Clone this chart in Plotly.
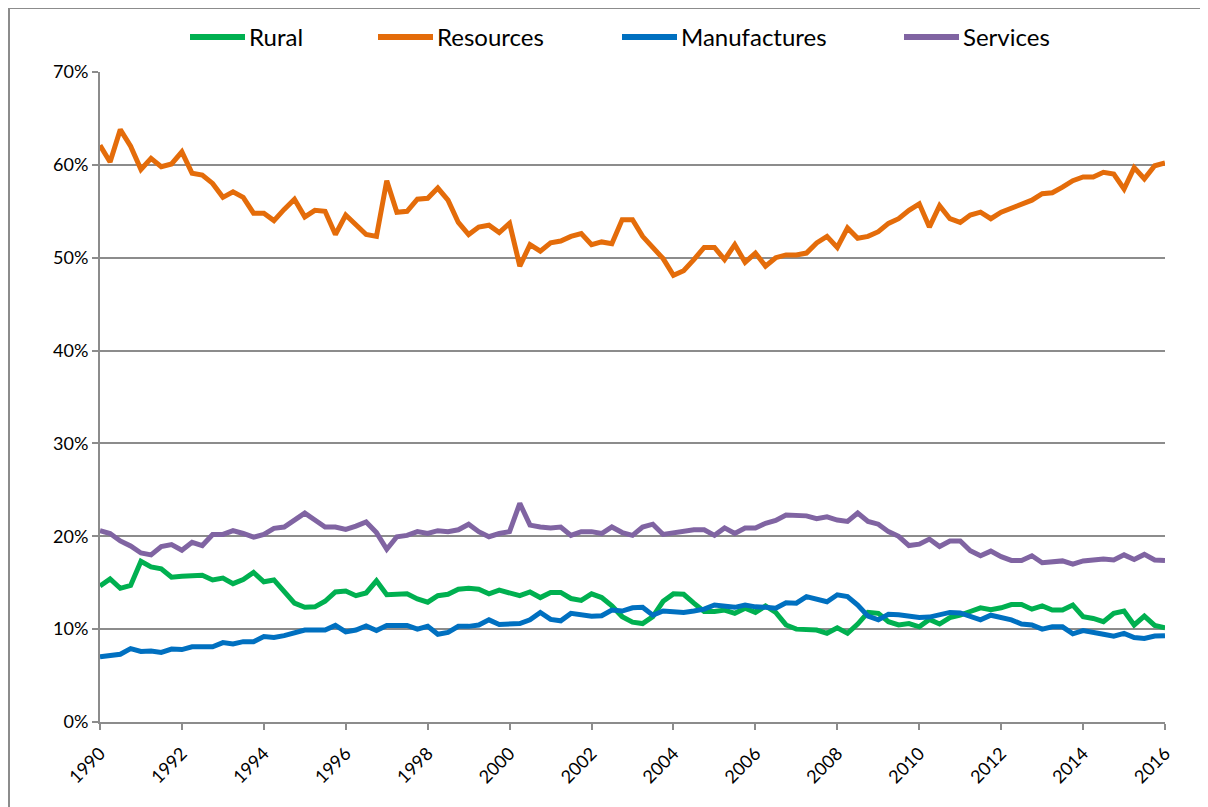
import plotly.graph_objects as go
import pandas as pd

# quarterly shares, 1990Q1 - 2016Q1 (in %)
quarters = pd.date_range("1990-01-01", periods=105, freq="QS")

rural = [14.65, 15.4, 14.4, 14.7, 17.3, 16.7, 16.5, 15.6, 15.7, 15.8,
         15.8, 15.3, 15.5, 14.9, 15.35, 16.1, 15.1, 15.3, 14.0, 12.8,
         12.35, 12.4, 13.0, 14.0, 14.1, 13.6, 13.9, 15.2, 13.7, 13.7,
         13.8, 13.25, 12.9, 13.6, 13.75, 14.3, 14.4, 14.3, 13.8, 14.2,
         13.95, 13.6, 14.0, 13.4, 13.95, 13.95, 13.3, 13.1, 13.8, 13.4,
         12.5, 11.35, 10.75, 10.6, 11.35, 13.0, 13.8, 13.75, 12.8, 11.9,
         11.9, 12.05, 11.7, 12.25, 11.8, 12.5, 11.8, 10.45, 10.0, 9.9,
         9.9, 9.55, 10.15, 9.55, 10.55, 11.8, 11.7, 10.8, 10.45, 10.6,
         10.25, 11.05, 10.55, 11.25, 11.5, 11.9, 12.3, 12.1, 12.3, 12.65,
         12.65, 12.15, 12.5, 12.05, 12.05, 12.6, 11.35, 11.15, 10.8, 11.7,
         11.95, 10.45, 11.4, 10.4, 10.15]

resources = [62.1, 60.3, 63.8, 62.0, 59.5, 60.7, 59.8, 60.1, 61.4, 59.1,
             58.9, 58.0, 56.5, 57.1, 56.5, 54.8, 54.8, 54.0, 55.2, 56.3,
             54.4, 55.1, 55.0, 52.5, 54.6, 53.6, 52.5, 52.3, 58.3, 54.9,
             55.0, 56.3, 56.4, 57.5, 56.2, 53.8, 52.5, 53.3, 53.5, 52.7,
             53.7, 49.1, 51.4, 50.7, 51.6, 51.8, 52.3, 52.6, 51.4, 51.7,
             51.5, 54.1, 54.1, 52.3, 51.1, 49.9, 48.1, 48.6, 49.8, 51.1,
             51.1, 49.8, 51.4, 49.5, 50.5, 49.1, 50.0, 50.3, 50.3, 50.5,
             51.6, 52.3, 51.1, 53.2, 52.1, 52.3, 52.8, 53.7, 54.2, 55.1,
             55.8, 53.3, 55.6, 54.2, 53.8, 54.6, 54.9, 54.2, 54.9, 55.3,
             55.8, 56.2, 56.9, 57.0, 57.6, 58.3, 58.7, 58.7, 59.2, 59.0,
             57.4, 59.7, 58.5, 59.9, 60.2]

manufactures = [7.03, 7.1, 7.3, 7.9, 7.6, 7.65, 7.5, 7.85, 7.8, 8.1,
                8.1, 8.1, 8.55, 8.4, 8.65, 8.65, 9.2, 9.1, 9.3, 9.6,
                9.9, 9.9, 9.9, 10.4, 9.7, 9.9, 10.35, 9.85, 10.4, 10.4,
                10.4, 10.0, 10.3, 9.45, 9.65, 10.3, 10.3, 10.45, 11.0, 10.5,
                10.5, 10.6, 11.0, 11.8, 11.05, 10.9, 11.7, 11.6, 11.4, 11.45,
                12.05, 11.95, 12.3, 12.35, 11.5, 11.95, 11.9, 11.8, 11.95, 12.15,
                12.6, 12.5, 12.35, 12.6, 12.4, 12.35, 12.25, 12.85, 12.8, 13.5,
                13.2, 12.95, 13.7, 13.5, 12.6, 11.4, 11.0, 11.6, 11.55, 11.45,
                11.25, 11.3, 11.5, 11.8, 11.75, 11.4, 11.0, 11.5, 11.25, 11.0,
                10.55, 10.45, 10.0, 10.25, 10.25, 9.5, 9.85, 9.6, 9.45, 9.25,
                9.55, 9.1, 9.0, 9.25, 9.3]

services = [20.6, 20.3, 19.5, 18.95, 18.2, 18.0, 18.9, 19.1, 18.5, 19.35,
            19.0, 20.2, 20.2, 20.6, 20.3, 19.9, 20.2, 20.85, 21.0, 21.75,
            22.5, 21.75, 21.0, 21.0, 20.75, 21.1, 21.55, 20.4, 18.6, 19.95,
            20.1, 20.5, 20.3, 20.6, 20.5, 20.7, 21.3, 20.5, 19.95, 20.3,
            20.5, 23.55, 21.2, 21.0, 20.9, 21.0, 20.1, 20.5, 20.5, 20.3,
            21.0, 20.4, 20.1, 21.0, 21.3, 20.2, 20.4, 20.6, 20.7, 20.7,
            20.1, 20.9, 20.3, 20.9, 20.9, 21.4, 21.7, 22.3, 22.3, 22.2,
            21.9, 22.1, 21.75, 21.6, 22.5, 21.6, 21.3, 20.5, 20.0, 19.0,
            19.15, 19.7, 18.9, 19.5, 19.5, 18.45, 17.9, 18.4, 17.8, 17.4,
            17.4, 17.9, 17.15, 17.3, 17.35, 17.0, 17.35, 17.45, 17.55, 17.45,
            18.0, 17.5, 18.05, 17.45, 17.4]

names = ["Rural", "Resources", "Manufactures", "Services"]
colors = ["#00B050", "#E46C0A", "#0070C0", "#8064A2"]
tick_years = list(range(1990, 2017, 2))

FONT = "Lato"
GRID = "#8C8C8C"

fig = go.Figure()
for name, ys, col in zip(names, [rural, resources, manufactures, services], colors):
    fig.add_trace(go.Scatter(x=quarters, y=ys, mode="lines", name=name,
                             line=dict(color=col, width=5)))

# the page puts the figure 8px in from the corner, so screen px - 8
OFF = 8
W, H = 1200, 799
L, T = 100 - OFF, 72 - OFF
R = W - (1165 - OFF)
B = H - (722 - OFF)
pw, ph = W - L - R, H - T - B


def px(x):
    return (x - OFF - L) / pw


def py(y):
    return (H - B - (y - OFF)) / ph


shapes = []
annotations = []
# outer chart frame
shapes.append(dict(type="rect", xref="paper", yref="paper",
                   x0=px(9), x1=px(1205), y0=py(840), y1=py(8),
                   line=dict(color="#8C8C8C", width=2), layer="below"))

# legend drawn by hand to match spacing of the original
leg_x = [190, 378, 622, 904]
for name, col, lx in zip(names, colors, leg_x):
    shapes.append(dict(type="line", xref="paper", yref="paper",
                       x0=px(lx), x1=px(lx + 55), y0=py(37), y1=py(37),
                       line=dict(color=col, width=6)))
    annotations.append(dict(xref="paper", yref="paper", x=px(lx + 57), y=py(37),
                            xanchor="left", yanchor="middle", text=name,
                            showarrow=False,
                            font=dict(family=FONT, size=24, color="#000000")))

fig.update_layout(
    width=W, height=H,
    margin=dict(l=L, r=R, t=T, b=B, autoexpand=False),
    plot_bgcolor="white", paper_bgcolor="white",
    showlegend=False,
    shapes=shapes, annotations=annotations,
    xaxis=dict(
        type="date",
        range=[quarters[0], quarters[-1]],
        tickvals=[pd.Timestamp(year=y, month=1, day=1) for y in tick_years],
        ticktext=[str(y) for y in tick_years],
        tickangle=-45,
        showgrid=False, zeroline=False,
        showline=True, linecolor=GRID, linewidth=2,
        ticks="outside", ticklen=6, tickcolor=GRID, tickwidth=2,
        ticklabelstandoff=6,
        tickfont=dict(family=FONT, size=18, color="#000000"),
    ),
    yaxis=dict(
        range=[0, 70], dtick=10, ticksuffix="%",
        showgrid=True, gridcolor=GRID, gridwidth=2,
        zeroline=False,
        showline=True, linecolor=GRID, linewidth=2,
        ticks="outside", ticklen=6, tickcolor=GRID, tickwidth=2,
        tickfont=dict(family=FONT, size=18, color="#000000"),
    ),
)

fig.write_html("out.html")
